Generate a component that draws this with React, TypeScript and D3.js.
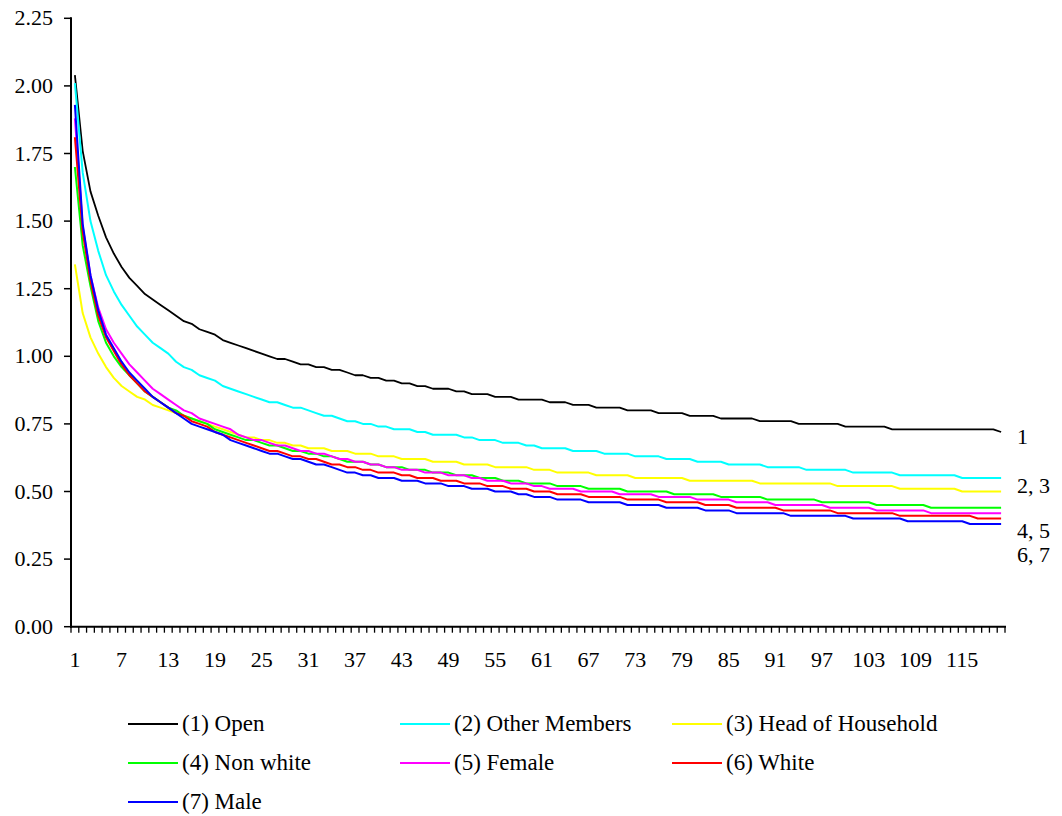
import React from "react";
import * as d3 from "d3";

const seriesNames = [
  "(1) Open",
  "(2) Other Members",
  "(3) Head of Household",
  "(4) Non white",
  "(5) Female",
  "(6) White",
  "(7) Male",
];
const seriesColors = ["#000000", "#00FFFF", "#FFFF00", "#00FF00", "#FF00FF", "#FF0000", "#0000FF"];

const open = [
  2.04, 1.76, 1.61, 1.52, 1.44, 1.38, 1.33, 1.29, 1.26, 1.23,
  1.21, 1.19, 1.17, 1.15, 1.13, 1.12, 1.10, 1.09, 1.08, 1.06,
  1.05, 1.04, 1.03, 1.02, 1.01, 1.00, 0.99, 0.99, 0.98, 0.97,
  0.97, 0.96, 0.96, 0.95, 0.95, 0.94, 0.93, 0.93, 0.92, 0.92,
  0.91, 0.91, 0.90, 0.90, 0.89, 0.89, 0.88, 0.88, 0.88, 0.87,
  0.87, 0.86, 0.86, 0.86, 0.85, 0.85, 0.85, 0.84, 0.84, 0.84,
  0.84, 0.83, 0.83, 0.83, 0.82, 0.82, 0.82, 0.81, 0.81, 0.81,
  0.81, 0.80, 0.80, 0.80, 0.80, 0.79, 0.79, 0.79, 0.79, 0.78,
  0.78, 0.78, 0.78, 0.77, 0.77, 0.77, 0.77, 0.77, 0.76, 0.76,
  0.76, 0.76, 0.76, 0.75, 0.75, 0.75, 0.75, 0.75, 0.75, 0.74,
  0.74, 0.74, 0.74, 0.74, 0.74, 0.73, 0.73, 0.73, 0.73, 0.73,
  0.73, 0.73, 0.73, 0.73, 0.73, 0.73, 0.73, 0.73, 0.73, 0.72,
];
const otherMembers = [
  2.01, 1.68, 1.50, 1.39, 1.30, 1.24, 1.19, 1.15, 1.11, 1.08,
  1.05, 1.03, 1.01, 0.98, 0.96, 0.95, 0.93, 0.92, 0.91, 0.89,
  0.88, 0.87, 0.86, 0.85, 0.84, 0.83, 0.83, 0.82, 0.81, 0.81,
  0.80, 0.79, 0.78, 0.78, 0.77, 0.76, 0.76, 0.75, 0.75, 0.74,
  0.74, 0.73, 0.73, 0.73, 0.72, 0.72, 0.71, 0.71, 0.71, 0.71,
  0.70, 0.70, 0.69, 0.69, 0.69, 0.68, 0.68, 0.68, 0.67, 0.67,
  0.66, 0.66, 0.66, 0.66, 0.65, 0.65, 0.65, 0.65, 0.64, 0.64,
  0.64, 0.64, 0.63, 0.63, 0.63, 0.63, 0.62, 0.62, 0.62, 0.62,
  0.61, 0.61, 0.61, 0.61, 0.60, 0.60, 0.60, 0.60, 0.60, 0.59,
  0.59, 0.59, 0.59, 0.59, 0.58, 0.58, 0.58, 0.58, 0.58, 0.58,
  0.57, 0.57, 0.57, 0.57, 0.57, 0.57, 0.56, 0.56, 0.56, 0.56,
  0.56, 0.56, 0.56, 0.56, 0.55, 0.55, 0.55, 0.55, 0.55, 0.55,
];
const headOfHousehold = [
  1.34, 1.16, 1.07, 1.01, 0.96, 0.92, 0.89, 0.87, 0.85, 0.84,
  0.82, 0.81, 0.80, 0.79, 0.78, 0.77, 0.76, 0.75, 0.74, 0.73,
  0.72, 0.71, 0.70, 0.70, 0.69, 0.69, 0.68, 0.68, 0.67, 0.67,
  0.66, 0.66, 0.66, 0.65, 0.65, 0.65, 0.64, 0.64, 0.64, 0.63,
  0.63, 0.63, 0.62, 0.62, 0.62, 0.62, 0.61, 0.61, 0.61, 0.61,
  0.60, 0.60, 0.60, 0.60, 0.59, 0.59, 0.59, 0.59, 0.59, 0.58,
  0.58, 0.58, 0.57, 0.57, 0.57, 0.57, 0.57, 0.56, 0.56, 0.56,
  0.56, 0.56, 0.55, 0.55, 0.55, 0.55, 0.55, 0.55, 0.55, 0.54,
  0.54, 0.54, 0.54, 0.54, 0.54, 0.54, 0.54, 0.54, 0.53, 0.53,
  0.53, 0.53, 0.53, 0.53, 0.53, 0.53, 0.53, 0.53, 0.52, 0.52,
  0.52, 0.52, 0.52, 0.52, 0.52, 0.52, 0.51, 0.51, 0.51, 0.51,
  0.51, 0.51, 0.51, 0.51, 0.50, 0.50, 0.50, 0.50, 0.50, 0.50,
];
const nonWhite = [
  1.70, 1.41, 1.26, 1.13, 1.05, 1.00, 0.96, 0.93, 0.90, 0.87,
  0.85, 0.83, 0.81, 0.80, 0.78, 0.77, 0.76, 0.75, 0.73, 0.72,
  0.71, 0.70, 0.69, 0.69, 0.68, 0.67, 0.67, 0.66, 0.65, 0.65,
  0.64, 0.64, 0.63, 0.63, 0.62, 0.61, 0.61, 0.61, 0.60, 0.60,
  0.59, 0.59, 0.59, 0.58, 0.58, 0.58, 0.57, 0.57, 0.57, 0.56,
  0.56, 0.56, 0.55, 0.55, 0.55, 0.54, 0.54, 0.54, 0.53, 0.53,
  0.53, 0.53, 0.52, 0.52, 0.52, 0.52, 0.51, 0.51, 0.51, 0.51,
  0.51, 0.50, 0.50, 0.50, 0.50, 0.50, 0.50, 0.49, 0.49, 0.49,
  0.49, 0.49, 0.49, 0.48, 0.48, 0.48, 0.48, 0.48, 0.48, 0.47,
  0.47, 0.47, 0.47, 0.47, 0.47, 0.47, 0.46, 0.46, 0.46, 0.46,
  0.46, 0.46, 0.46, 0.45, 0.45, 0.45, 0.45, 0.45, 0.45, 0.45,
  0.44, 0.44, 0.44, 0.44, 0.44, 0.44, 0.44, 0.44, 0.44, 0.44,
];
const female = [
  1.88, 1.48, 1.30, 1.18, 1.10, 1.05, 1.01, 0.97, 0.94, 0.91,
  0.88, 0.86, 0.84, 0.82, 0.80, 0.79, 0.77, 0.76, 0.75, 0.74,
  0.73, 0.71, 0.70, 0.69, 0.69, 0.68, 0.67, 0.67, 0.66, 0.65,
  0.65, 0.64, 0.64, 0.63, 0.62, 0.62, 0.61, 0.61, 0.60, 0.60,
  0.59, 0.59, 0.58, 0.58, 0.58, 0.57, 0.57, 0.57, 0.56, 0.56,
  0.56, 0.55, 0.55, 0.54, 0.54, 0.54, 0.53, 0.53, 0.53, 0.52,
  0.52, 0.51, 0.51, 0.51, 0.51, 0.50, 0.50, 0.50, 0.50, 0.50,
  0.49, 0.49, 0.49, 0.49, 0.49, 0.48, 0.48, 0.48, 0.48, 0.48,
  0.47, 0.47, 0.47, 0.47, 0.47, 0.46, 0.46, 0.46, 0.46, 0.46,
  0.45, 0.45, 0.45, 0.45, 0.45, 0.45, 0.45, 0.44, 0.44, 0.44,
  0.44, 0.44, 0.44, 0.43, 0.43, 0.43, 0.43, 0.43, 0.43, 0.43,
  0.42, 0.42, 0.42, 0.42, 0.42, 0.42, 0.42, 0.42, 0.42, 0.42,
];
const white = [
  1.81, 1.46, 1.28, 1.15, 1.07, 1.02, 0.97, 0.93, 0.90, 0.87,
  0.85, 0.83, 0.81, 0.79, 0.78, 0.76, 0.75, 0.74, 0.72, 0.71,
  0.70, 0.69, 0.68, 0.67, 0.66, 0.65, 0.65, 0.64, 0.63, 0.63,
  0.62, 0.62, 0.61, 0.60, 0.60, 0.59, 0.59, 0.58, 0.58, 0.57,
  0.57, 0.57, 0.56, 0.56, 0.55, 0.55, 0.55, 0.54, 0.54, 0.54,
  0.53, 0.53, 0.53, 0.52, 0.52, 0.52, 0.51, 0.51, 0.51, 0.50,
  0.50, 0.50, 0.49, 0.49, 0.49, 0.49, 0.48, 0.48, 0.48, 0.48,
  0.48, 0.47, 0.47, 0.47, 0.47, 0.47, 0.46, 0.46, 0.46, 0.46,
  0.46, 0.45, 0.45, 0.45, 0.45, 0.44, 0.44, 0.44, 0.44, 0.44,
  0.44, 0.43, 0.43, 0.43, 0.43, 0.43, 0.43, 0.43, 0.42, 0.42,
  0.42, 0.42, 0.42, 0.42, 0.42, 0.42, 0.41, 0.41, 0.41, 0.41,
  0.41, 0.41, 0.41, 0.41, 0.41, 0.41, 0.40, 0.40, 0.40, 0.40,
];
const male = [
  1.93, 1.49, 1.30, 1.17, 1.08, 1.03, 0.98, 0.94, 0.91, 0.88,
  0.85, 0.83, 0.81, 0.79, 0.77, 0.75, 0.74, 0.73, 0.72, 0.71,
  0.69, 0.68, 0.67, 0.66, 0.65, 0.64, 0.64, 0.63, 0.62, 0.62,
  0.61, 0.60, 0.60, 0.59, 0.58, 0.57, 0.57, 0.56, 0.56, 0.55,
  0.55, 0.55, 0.54, 0.54, 0.54, 0.53, 0.53, 0.53, 0.52, 0.52,
  0.52, 0.51, 0.51, 0.51, 0.50, 0.50, 0.50, 0.49, 0.49, 0.48,
  0.48, 0.48, 0.47, 0.47, 0.47, 0.47, 0.46, 0.46, 0.46, 0.46,
  0.46, 0.45, 0.45, 0.45, 0.45, 0.45, 0.44, 0.44, 0.44, 0.44,
  0.44, 0.43, 0.43, 0.43, 0.43, 0.42, 0.42, 0.42, 0.42, 0.42,
  0.42, 0.42, 0.41, 0.41, 0.41, 0.41, 0.41, 0.41, 0.41, 0.41,
  0.40, 0.40, 0.40, 0.40, 0.40, 0.40, 0.40, 0.39, 0.39, 0.39,
  0.39, 0.39, 0.39, 0.39, 0.39, 0.38, 0.38, 0.38, 0.38, 0.38,
];

const seriesValues = [open, otherMembers, headOfHousehold, nonWhite, female, white, male];
const categories = open.map((_, i) => i + 1);
const yTicks = [0, 0.25, 0.5, 0.75, 1.0, 1.25, 1.5, 1.75, 2.0, 2.25];
const xLabelEvery = 6;
const endLabels = ["1", "2, 3", "4, 5", "6, 7"];
const endLabelValues = [0.70, 0.52, 0.355, 0.265];

const FONT = '"Liberation Serif", "Times New Roman", Times, "DejaVu Serif", serif';
const axisText = { fontFamily: FONT, fontSize: "22px" };
const legendText = { fontFamily: FONT, fontSize: "23px" };

export default function App() {
  const W = 1062;
  const H = 816;
  const left = 71;
  const right = 1005;
  const top = 18.3;
  const bottom = 626.7;

  const x = d3.scaleBand<number>().domain(categories).range([left, right]).paddingInner(0).paddingOuter(0);
  const y = d3.scaleLinear().domain([0, 2.25]).range([bottom, top]);
  const cx = (c: number) => (x(c) as number) + x.bandwidth() / 2;

  const line = d3
    .line<number>()
    .x((_, i) => cx(categories[i]))
    .y((v) => y(v));

  const boundaries = d3.range(categories.length + 1).map((k) => left + k * x.bandwidth());

  const legendCols = [128, 400, 672];
  const legendRows = [724, 763, 802];
  const sampleLen = 50;

  return (
    <svg
      width={W}
      height={H}
      style={{ position: "absolute", left: 0, top: 0, background: "#fff" }}
    >
      <rect x={0} y={0} width={W} height={H} fill="#fff" />
      {seriesValues.map((vals, si) => (
        <path
          key={si}
          d={line(vals) || ""}
          fill="none"
          stroke={seriesColors[si]}
          strokeWidth={si === 0 ? 1.8 : 2}
          strokeLinejoin="round"
        />
      ))}
      <line x1={left} x2={left} y1={top - 1} y2={bottom + 1} stroke="#000" strokeWidth={2} />
      {yTicks.map((t) => (
        <g key={t}>
          <line x1={left - 7} x2={left} y1={y(t)} y2={y(t)} stroke="#000" strokeWidth={1.5} />
          <text x={53} y={y(t) + 7} textAnchor="end" fill="#000" style={axisText}>
            {t.toFixed(2)}
          </text>
        </g>
      ))}
      <line x1={left - 1} x2={right + 1} y1={bottom} y2={bottom} stroke="#000" strokeWidth={2} />
      {boundaries.map((bx, k) => (
        <line key={k} x1={bx} x2={bx} y1={bottom} y2={bottom + 6} stroke="#000" strokeWidth={1.3} />
      ))}
      {categories
        .filter((c) => (c - 1) % xLabelEvery === 0)
        .map((c) => (
          <text key={c} x={cx(c)} y={667} textAnchor="middle" fill="#000" style={axisText}>
            {c}
          </text>
        ))}
      {endLabels.map((t, i) => (
        <text key={t} x={1017} y={y(endLabelValues[i]) + 7} fill="#000" style={axisText}>
          {t}
        </text>
      ))}
      {seriesNames.map((name, i) => {
        const lx = legendCols[i % 3];
        const ly = legendRows[Math.floor(i / 3)];
        return (
          <g key={name}>
            <line x1={lx} x2={lx + sampleLen} y1={ly} y2={ly} stroke={seriesColors[i]} strokeWidth={2} />
            <text x={lx + sampleLen + 4} y={ly + 7} fill="#000" style={legendText}>
              {name}
            </text>
          </g>
        );
      })}
    </svg>
  );
}
